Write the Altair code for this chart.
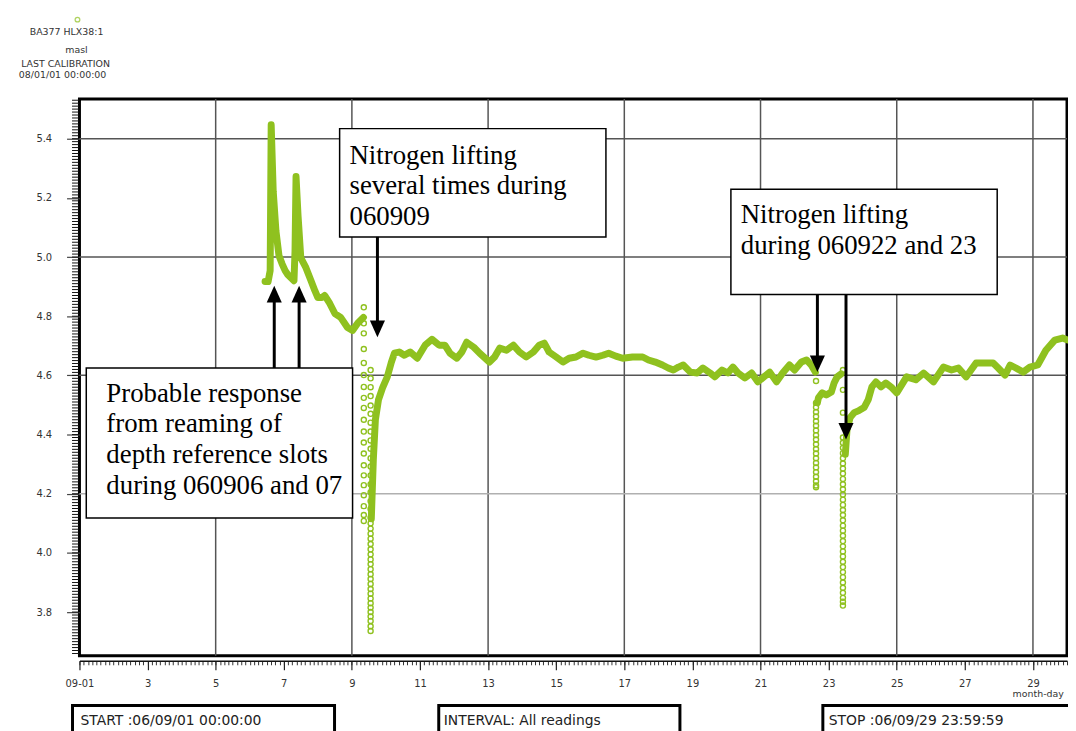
import altair as alt
import pandas as pd
import numpy as np

GREEN = "#8fc11f"

# ---------------- data (day of September 2006, water level in masl) ----------------
seg1_day = [6.45, 6.54, 6.60, 6.63, 6.69, 6.77, 6.86, 6.95, 7.04, 7.12, 7.21, 7.30, 7.33, 7.36, 7.42,
            7.50, 7.65, 7.80, 7.91, 8.00, 8.12, 8.20, 8.35, 8.50, 8.67, 8.87, 9.02, 9.17, 9.34]
seg1_val = [4.917, 4.917, 4.954, 5.447, 5.222, 5.088, 5.004, 4.977, 4.954, 4.940, 4.930, 4.920, 5.021, 5.272, 5.138,
            4.997, 4.964, 4.920, 4.887, 4.863, 4.863, 4.870, 4.843, 4.809, 4.796, 4.762, 4.752, 4.776, 4.796]

seg2_day = [9.57, 9.63, 9.69, 9.78, 9.90, 10.04, 10.16, 10.25, 10.39, 10.54, 10.71, 10.92, 11.15, 11.35, 11.56,
            11.73, 11.88, 12.08, 12.23, 12.37, 12.58, 12.75, 13.04, 13.19, 13.34, 13.54, 13.74, 13.92, 14.12, 14.33,
            14.50, 14.65, 14.79, 15.00, 15.20, 15.38, 15.58, 15.79, 15.96, 16.17, 16.37, 16.54, 16.75, 16.95, 17.24,
            17.54, 17.71, 17.91, 18.12, 18.29, 18.44, 18.59, 18.73, 18.94, 19.14, 19.31, 19.52, 19.66, 19.87, 20.04,
            20.19, 20.34, 20.54, 20.74, 20.92, 21.06, 21.27, 21.47, 21.65, 21.85, 22.00, 22.20, 22.35, 22.49, 22.61]
seg2_val = [4.115, 4.316, 4.450, 4.517, 4.558, 4.595, 4.645, 4.675, 4.679, 4.668, 4.679, 4.658, 4.702, 4.722, 4.702,
            4.702, 4.675, 4.658, 4.679, 4.712, 4.695, 4.675, 4.645, 4.662, 4.692, 4.685, 4.702, 4.679, 4.662, 4.679,
            4.702, 4.709, 4.679, 4.662, 4.645, 4.658, 4.662, 4.675, 4.668, 4.662, 4.668, 4.675, 4.665, 4.658, 4.662,
            4.662, 4.652, 4.645, 4.635, 4.625, 4.618, 4.628, 4.635, 4.611, 4.608, 4.625, 4.608, 4.595, 4.618, 4.608,
            4.628, 4.608, 4.591, 4.608, 4.578, 4.591, 4.611, 4.578, 4.608, 4.635, 4.618, 4.645, 4.652, 4.635, 4.611]

seg3_day = [22.67, 22.70, 22.81, 22.93, 23.08, 23.16, 23.25, 23.37]
seg3_val = [4.507, 4.524, 4.541, 4.534, 4.544, 4.574, 4.595, 4.605]

seg4_day = [23.49, 23.54, 23.63, 23.75, 23.89, 24.04, 24.16, 24.27, 24.39, 24.54, 24.68, 24.86, 25.00, 25.29, 25.56,
            25.79, 26.08, 26.37, 26.61, 26.81, 27.04, 27.33, 27.63, 27.83, 27.98, 28.18, 28.33, 28.50, 28.71, 28.91,
            29.14, 29.38, 29.64, 29.87, 30.00]
seg4_val = [4.333, 4.417, 4.457, 4.474, 4.481, 4.491, 4.517, 4.561, 4.578, 4.561, 4.574, 4.558, 4.541, 4.595, 4.585,
            4.608, 4.578, 4.628, 4.618, 4.625, 4.595, 4.642, 4.642, 4.642, 4.625, 4.601, 4.635, 4.625, 4.611, 4.628,
            4.635, 4.685, 4.719, 4.726, 4.720]

# scattered single readings during the drops
dropA_day = 9.35
dropA_val = [4.830, 4.776, 4.742, 4.689, 4.642, 4.601, 4.561, 4.524, 4.490, 4.450, 4.410, 4.373, 4.336, 4.296,
             4.262, 4.229, 4.195, 4.158, 4.128, 4.108]
dropB_day = 9.55
dropB_val = [4.618, 4.590, 4.560, 4.530, 4.498, 4.470, 4.440, 4.410, 4.380, 4.352, 4.320, 4.292, 4.262, 4.232,
             4.205, 4.175, 4.148, 4.120, 4.100, 4.082, 4.065, 4.048, 4.030, 4.012, 3.995, 3.978, 3.962, 3.945,
             3.928, 3.912, 3.895, 3.878, 3.862, 3.846, 3.830, 3.815, 3.800, 3.785, 3.770, 3.752, 3.736]
dropC_day = 22.63
dropC_val = [4.581, 4.507, 4.492, 4.476, 4.461, 4.445, 4.430, 4.414, 4.398, 4.383, 4.367, 4.351, 4.336, 4.320,
             4.304, 4.289, 4.273, 4.257, 4.242, 4.228, 4.222]
dropD_day = 23.42
dropD_val = [4.618, 4.551, 4.474, 4.390, 4.372, 4.355, 4.337, 4.320, 4.302, 4.285, 4.268, 4.250, 4.232, 4.215,
             4.197, 4.180, 4.162, 4.145, 4.128, 4.110, 4.092, 4.075, 4.058, 4.040, 4.022, 4.005, 3.988, 3.970,
             3.952, 3.935, 3.918, 3.900, 3.882, 3.865, 3.848, 3.835, 3.822]

# axis / grid
x_label_days = list(range(1, 30, 2))
grid_days = [5, 9, 13, 17, 21, 25, 29]
grid_levels_dark = [5.4, 5.0, 4.6]
grid_levels_light = [4.2]
y_label_levels = [3.8, 4.0, 4.2, 4.4, 4.6, 4.8, 5.0, 5.2, 5.4]
y_minor_levels = [round(float(v), 3) for v in np.arange(3.66, 5.535, 0.01)]
x_minor_days = [round(float(v), 3) for v in np.arange(1, 30.001, 0.125)]

# annotations (in data coordinates)
box_x0 = [8.64, 20.13, 1.20]
box_x1 = [16.46, 27.95, 9.02]
box_y0 = [5.434, 5.229, 4.625]
box_y1 = [5.068, 4.873, 4.118]

note_text = ["Nitrogen lifting", "several times during", "060909",
             "Nitrogen lifting", "during 060922 and 23",
             "Probable response", "from reaming of", "depth reference slots", "during 060906 and 07"]
note_day = [8.93, 8.93, 8.93, 20.42, 20.42, 1.79, 1.79, 1.79, 1.79]
note_level = [5.316, 5.212, 5.108, 5.115, 5.011, 4.511, 4.407, 4.303, 4.199]

arrow_day = [6.72, 7.45, 9.75, 22.67, 23.51]
arrow_from = [4.625, 4.625, 5.068, 4.873, 4.873]
arrow_tip = [4.903, 4.903, 4.729, 4.611, 4.383]

header_lines = ["BA377 HLX38:1", "masl", "LAST CALIBRATION", "08/01/01 00:00:00"]
footer_lines = ["START :06/09/01 00:00:00", "INTERVAL: All readings", "STOP :06/09/29 23:59:59"]

# ---------------- tables ----------------
rows = []
for s, (dd, vv) in enumerate([(seg1_day, seg1_val), (seg2_day, seg2_val),
                               (seg3_day, seg3_val), (seg4_day, seg4_val)]):
    for i, (d, v) in enumerate(zip(dd, vv)):
        rows.append({"day": d, "level": v, "seg": s, "i": i})
line_df = pd.DataFrame(rows)

prow = []
for d, vals in [(dropA_day, dropA_val), (dropB_day, dropB_val), (dropC_day, dropC_val), (dropD_day, dropD_val)]:
    for v in vals:
        prow.append({"day": d, "level": v})
pts_df = pd.DataFrame(prow)

boxes_df = pd.DataFrame({"x0": box_x0, "x1": box_x1, "y0": box_y0, "y1": box_y1})
notes_df = pd.DataFrame({"day": note_day, "level": note_level, "text": note_text})

HEAD = 10 / 298.0  # shaft stops inside the arrow head
arr = pd.DataFrame({"day": arrow_day, "start": arrow_from, "tip": arrow_tip})
arr["up"] = arr["tip"] > arr["start"]
arr["end"] = np.where(arr["up"], arr["tip"] - HEAD, arr["tip"] + HEAD)

# ---------------- scales / axes ----------------
xs = alt.Scale(domain=[1, 30], nice=False, zero=False)
ys = alt.Scale(domain=[3.652, 5.534], nice=False, zero=False)

AX_FONT = "DejaVu Sans"
major_x = alt.Axis(orient="bottom", values=x_label_days,
                   labelExpr="datum.value == 1 ? '09-01' : datum.label",
                   tickSize=9, tickColor="#222", tickWidth=1.2, domainColor="#111", domainWidth=1.5,
                   offset=5, labelFont=AX_FONT, labelFontSize=10, labelColor="#333", labelPadding=9,
                   grid=False, title=None, labelFlush=False)
minor_x = alt.Axis(orient="bottom", values=x_minor_days, tickSize=4,
                   tickColor="#333", tickWidth=1, labels=False, domain=False, offset=5, grid=False, title=None)
major_y = alt.Axis(orient="left", values=y_label_levels, format=".1f", tickSize=13, tickColor="#444",
                   tickWidth=1.2, domain=False, labelFont=AX_FONT, labelFontSize=10, labelColor="#333",
                   labelPadding=15, grid=False, title=None)

X = lambda f, ax=None: alt.X(f, type="quantitative", scale=xs, axis=ax)
Y = lambda f, ax=None: alt.Y(f, type="quantitative", scale=ys, axis=ax)

# ---------------- layers ----------------
grid_v = alt.Chart(pd.DataFrame({"day": grid_days})).mark_rule(color="#555555", strokeWidth=1.5).encode(
    x=X("day", minor_x))
grid_hd = alt.Chart(pd.DataFrame({"lv": grid_levels_dark})).mark_rule(color="#555555", strokeWidth=1.5).encode(
    y=Y("lv"))
grid_hl = alt.Chart(pd.DataFrame({"lv": grid_levels_light})).mark_rule(color="#b0b0b0", strokeWidth=1.5).encode(
    y=Y("lv"))
y_minor = alt.Chart(pd.DataFrame({"lv": y_minor_levels})).mark_tick(
    color="#111", thickness=1, size=7, orient="horizontal", opacity=1).encode(
    y=Y("lv"), x=alt.value(-4))

trace = alt.Chart(line_df).mark_line(color=GREEN, strokeWidth=7, strokeJoin="round", strokeCap="round").encode(
    x=X("day", major_x), y=Y("level", major_y), detail="seg:N", order="i:Q")
drops = alt.Chart(pts_df).mark_point(shape="circle", filled=False, color=GREEN, size=26, strokeWidth=1.4,
                                     opacity=1).encode(x=X("day"), y=Y("level"))

boxes = alt.Chart(boxes_df).mark_rect(fill="white", stroke="black", strokeWidth=1.5).encode(
    x=X("x0"), x2="x1", y=Y("y0"), y2="y1")
notes = alt.Chart(notes_df).mark_text(align="left", baseline="alphabetic", font="Liberation Serif",
                                      fontSize=27, color="black").encode(x=X("day"), y=Y("level"), text="text:N")
shafts = alt.Chart(arr).mark_rule(color="black", strokeWidth=3).encode(x=X("day"), y=Y("start"), y2="end")
head_up = alt.Chart(arr).transform_filter("datum.up").mark_point(
    shape="M0,0L-0.95,2.1L0.95,2.1Z", filled=True, color="black", opacity=1, size=256, strokeWidth=0).encode(
    x=X("day"), y=Y("tip"))
head_dn = alt.Chart(arr).transform_filter("!datum.up").mark_point(
    shape="M0,0L-0.95,-2.1L0.95,-2.1Z", filled=True, color="black", opacity=1, size=256, strokeWidth=0).encode(
    x=X("day"), y=Y("tip"))

one = pd.DataFrame({"k": [0]})
hdr_pos = [(-13, -68), (-3, -49), (-14, -35), (-17, -24)]
header = [alt.Chart(one).mark_point(shape="circle", filled=False, color=GREEN, size=22, strokeWidth=1.3).encode(
    x=alt.value(-2), y=alt.value(-80))]
for t, (px, py) in zip(header_lines, hdr_pos):
    header.append(alt.Chart(one).mark_text(text=t, font=AX_FONT, fontSize=9.5, color="#333", align="center",
                                           baseline="middle").encode(x=alt.value(px), y=alt.value(py)))
unit = alt.Chart(one).mark_text(text="month-day", font=AX_FONT, fontSize=9.5, color="#333", align="center",
                                baseline="middle").encode(x=alt.value(966), y=alt.value(599))

footer = []
foot_box = [(-7, 257), (362, 605), (749, 1020)]
foot_tx = [1, 367, 755]
for t, (bx0, bx1), tx in zip(footer_lines, foot_box, foot_tx):
    footer.append(alt.Chart(one).mark_rect(fill="white", stroke="black", strokeWidth=3).encode(
        x=alt.value(bx0), x2=alt.value(bx1), y=alt.value(611), y2=alt.value(680)))
    footer.append(alt.Chart(one).mark_text(text=t, font=AX_FONT, fontSize=14, color="#222", align="left",
                                           baseline="middle").encode(x=alt.value(tx), y=alt.value(627)))

chart = alt.layer(grid_v, grid_hd, grid_hl, trace, drops, boxes, notes, shafts, head_up, head_dn,
                  *header, unit, *footer, y_minor).resolve_axis(x="independent", y="independent").properties(
    width=995, height=561,
    padding={"left": 72, "top": 89, "right": 1, "bottom": 73},
    autosize=alt.AutoSizeParams(type="none"),
    background="white",
).configure_view(stroke="black", strokeWidth=3)

chart.save("out.html", embed_options={"renderer": "svg", "actions": False})
